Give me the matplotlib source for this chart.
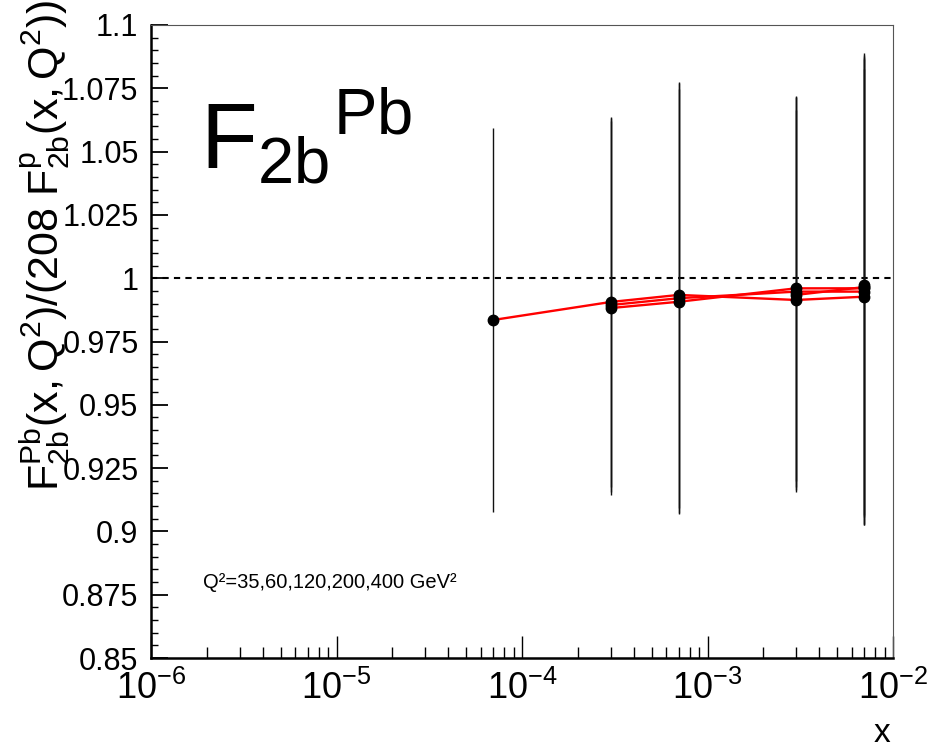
import matplotlib
matplotlib.use("Agg")
import matplotlib.pyplot as plt
from matplotlib.ticker import FixedLocator, LogLocator, NullFormatter

plt.rcParams['font.family'] = ['Liberation Sans', 'DejaVu Sans']
plt.rcParams['mathtext.fontset'] = 'custom'
plt.rcParams['mathtext.rm'] = 'Liberation Sans'
plt.rcParams['mathtext.it'] = 'Liberation Sans'
plt.rcParams['mathtext.bf'] = 'Liberation Sans:bold'

# one set per Q^2 value
q2_values = [35, 60, 120, 200, 400]

x_q35 = [7e-5, 3e-4, 7e-4, 3e-3, 7e-3]
r_q35 = [0.9835, 0.9906, 0.9934, 0.9914, 0.9927]
e_q35 = [0.076, 0.073, 0.084, 0.075, 0.090]

x_q60 = [3e-4, 7e-4, 3e-3, 7e-3]
r_q60 = [0.9894, 0.9921, 0.9947, 0.9947]
e_q60 = [0.074, 0.085, 0.077, 0.092]

x_q120 = [3e-4, 7e-4, 3e-3, 7e-3]
r_q120 = [0.9882, 0.9907, 0.9960, 0.9960]
e_q120 = [0.074, 0.084, 0.076, 0.093]

x_q200 = [3e-3, 7e-3]
r_q200 = [0.9934, 0.9965]
e_q200 = [0.078, 0.091]

x_q400 = [7e-3]
r_q400 = [0.9973]
e_q400 = [0.091]

yticks = [0.85, 0.875, 0.9, 0.925, 0.95, 0.975, 1.0, 1.025, 1.05, 1.075, 1.1]
ytick_labels = ['0.85', '0.875', '0.9', '0.925', '0.95', '0.975', '1', '1.025', '1.05', '1.075', '1.1']

series = [(x_q35, r_q35, e_q35), (x_q60, r_q60, e_q60), (x_q120, r_q120, e_q120),
          (x_q200, r_q200, e_q200), (x_q400, r_q400, e_q400)]

fig = plt.figure(figsize=(9.35, 7.48), dpi=100)
ax = fig.add_axes([151/935, 1 - 658/748, (893 - 151)/935, (658 - 25)/748])

ax.axhline(1.0, color='black', ls=(0, (3, 2.5)), lw=1.5, zorder=1)

# error bars first, then red lines, then dots
for xs, rs, es in series:
    ax.errorbar(xs, rs, yerr=es, fmt='none', ecolor='#111111', elinewidth=1.0, capsize=0, zorder=2)
for xs, rs, es in series:
    ax.plot(xs, rs, color='red', lw=1.7, zorder=3)
for xs, rs, es in series:
    ax.plot(xs, rs, 'o', color='black', ms=7.5, zorder=4)

ax.set_xscale('log')
ax.set_xlim(1e-6, 1e-2)
ax.set_ylim(0.85, 1.1)

ax.yaxis.set_major_locator(FixedLocator(yticks))
ax.set_yticklabels(ytick_labels)
ax.yaxis.set_minor_locator(FixedLocator([0.85 + 0.005 * i for i in range(51)]))
ax.xaxis.set_minor_locator(LogLocator(base=10, subs=range(2, 10)))
ax.xaxis.set_minor_formatter(NullFormatter())

ax.tick_params(axis='y', which='major', direction='in', length=12, width=1.3, labelsize=22, pad=9)
ax.tick_params(axis='y', which='minor', direction='in', length=5, width=1.0)
ax.tick_params(axis='x', which='major', direction='in', length=16, width=1.0, labelsize=26, pad=9)
ax.tick_params(axis='x', which='minor', direction='in', length=8, width=1.0)

ax.spines['left'].set_linewidth(1.8)
ax.spines['bottom'].set_linewidth(1.8)
ax.spines['top'].set_color('#555555')
ax.spines['right'].set_color('#555555')

ax.text(0.066, 0.774, r'$\mathregular{F_{2b}{}^{Pb}}$', transform=ax.transAxes, fontsize=67)
ax.text(0.070, 0.111, 'Q²=35,60,120,200,400 GeV²', transform=ax.transAxes, fontsize=14.5)

fig.text(0.048, 1.0, r'$\mathregular{F_{2b}^{Pb}(x,Q^{2})/(208\ F_{2b}^{p}(x,Q^{2}))}$',
         rotation=90, ha='center', va='top', fontsize=31)
fig.text(882/935, 1 - 733/748, 'x', ha='center', va='center', fontsize=24)

fig.savefig('out.png', dpi=100)
